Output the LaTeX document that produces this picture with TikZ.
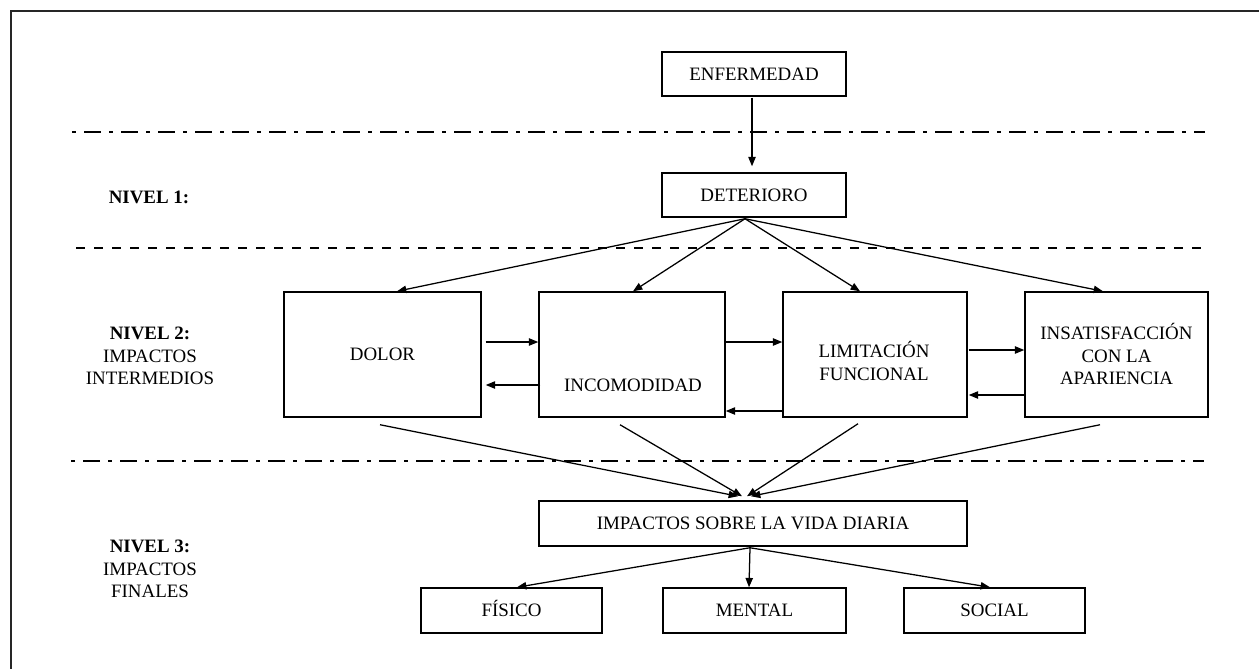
\documentclass[tikz,border=0pt]{standalone}
\usepackage{fontspec}
\setmainfont{Liberation Serif}
\usetikzlibrary{arrows.meta,calc}
\begin{document}
\begin{tikzpicture}[x=0.75pt,y=-0.75pt,
  box/.style={draw, line width=1.1pt, inner sep=0pt, align=center},
  onel/.style={text height=9.4pt, text depth=0pt},
  txt/.style={inner sep=0pt, align=center},
  arr/.style={draw, line width=0.95pt, -{Triangle[length=7pt,width=5.5pt]}},
  dashdot/.style={line width=1.4pt, dash pattern=on 3pt off 6pt on 12.75pt off 6pt},
  dashline/.style={line width=1.4pt, dash pattern=on 6.75pt off 6.75pt},
  frame/.style={line width=1.7pt, black!85},
  font=\fontsize{14.2pt}{17pt}\selectfont]
\useasboundingbox (0,0) rectangle (1259,668);
\clip (0,0) rectangle (1259,668);
\fill[white] (0,0) rectangle (1259,668);
% outer frame (only top and left visible)
\draw[frame] (11,700) -- (11,11) -- (1300,11);

% separator lines
\draw[dashdot] (72,132) -- (1205,132);
\draw[dashline] (76,248) -- (1208,248);
\draw[dashdot] (71,461) -- (1204,461);

% level labels
\node[txt, onel] (n1) at (149,197) {\textbf{NIVEL 1:}};
\node[txt] (n2) at (150,356) {\textbf{NIVEL 2:}\\IMPACTOS\\INTERMEDIOS};
\node[txt] (n3) at (150,569) {\textbf{NIVEL 3:}\\IMPACTOS\\FINALES};

% boxes
\node[box, onel, minimum width=138pt, minimum height=33pt] (enf) at (754,74) {ENFERMEDAD};
\node[box, onel, minimum width=138pt, minimum height=33pt] (det) at (754,195) {DETERIORO};
\node[box, onel, minimum width=147.75pt, minimum height=93.75pt] (dolor) at (382.5,354.5) {DOLOR};
\node[box, minimum width=139.5pt, minimum height=93.75pt] (inc) at (632,354.5) {};
\node[txt, onel] (inct) at (633,385) {INCOMODIDAD};
\node[box, minimum width=138pt, minimum height=93.75pt] (lim) at (875,354.5) {};
\node[txt] (limt) at (874,361) {LIMITACIÓN\\FUNCIONAL};
\node[box, minimum width=137.25pt, minimum height=93.75pt] (ins) at (1116.5,354.5) {};
\node[txt] (inst) at (1116.5,354) {INSATISFACCIÓN\\CON LA\\APARIENCIA};
\node[box, onel, minimum width=321pt, minimum height=33.75pt] (imp) at (753,523.5) {IMPACTOS SOBRE LA VIDA DIARIA};
\node[box, onel, minimum width=135.75pt, minimum height=33.75pt] (fis) at (511.5,610.5) {FÍSICO};
\node[box, onel, minimum width=137.25pt, minimum height=33.75pt] (men) at (754.5,610.5) {MENTAL};
\node[box, onel, minimum width=135.75pt, minimum height=33.75pt] (soc) at (994.5,610.5) {SOCIAL};

% enfermedad -> deterioro
\draw[arr] ($(enf.south)+(-2,1)$) -- ($(det.north)+(-2,-6)$);

% deterioro -> level 2
\coordinate (detb) at ($(det.south)+(-9,1)$);
\draw[arr] (detb) -- ($(dolor.north)+(14.5,0)$);
\draw[arr] (detb) -- ($(inc.north)+(1,0)$);
\draw[arr] (detb) -- ($(lim.north)+(-15,0)$);
\draw[arr] (detb) -- ($(ins.north)+(-13.5,0)$);

% horizontal interactions
\draw[arr] ($(dolor.east)+(4,-12.5)$) -- ($(inc.west)+(0,-12.5)$);
\draw[arr] ($(inc.west)+(2,30.5)$) -- ($(dolor.east)+(4,30.5)$);
\draw[arr] ($(inc.east)+(0,-12.5)$) -- ($(lim.west)+(0,-12.5)$);
\draw[arr] ($(lim.west)+(0,56.5)$) -- ($(inc.east)+(0,56.5)$);
\draw[arr] ($(lim.east)+(1,-4.5)$) -- ($(ins.west)+(0,-4.5)$);
\draw[arr] ($(ins.west)+(0,40.5)$) -- ($(lim.east)+(1,40.5)$);

% level 2 -> impactos
\draw[arr] ($(dolor.south)+(-2.5,7)$) -- ($(imp.north)+(-15,-4)$);
\draw[arr] ($(inc.south)+(-12,7)$) -- ($(imp.north)+(-11,-4)$);
\draw[arr] ($(lim.south)+(-17,6)$) -- ($(imp.north)+(-6,-4)$);
\draw[arr] ($(ins.south)+(-16.5,7)$) -- ($(imp.north)+(-2,-4)$);

% impactos -> finales
\coordinate (impb) at ($(imp.south)+(-3,1)$);
\draw[arr] (impb) -- ($(fis.north)+(5.5,0)$);
\draw[arr] (impb) -- ($(men.north)+(-5.5,0)$);
\draw[arr] (impb) -- ($(soc.north)+(-4.5,0)$);
\end{tikzpicture}
\end{document}
